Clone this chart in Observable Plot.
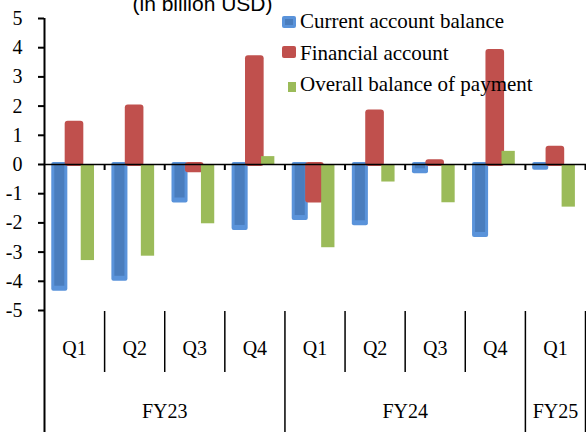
<!DOCTYPE html>
<html><head><meta charset="utf-8">
<script src="https://cdn.jsdelivr.net/npm/d3@7"></script>
<script src="https://cdn.jsdelivr.net/npm/@observablehq/plot@0.6"></script>
<style>
body{margin:0;background:#fff;}
#wrap{width:586px;height:432px;overflow:hidden;}
</style></head><body><div id="wrap"></div>
<script>
// ---- data ----
const quarters = ["Q1","Q2","Q3","Q4","Q1","Q2","Q3","Q4","Q1"];
const fiscalYears = ["FY23","FY23","FY23","FY23","FY24","FY24","FY24","FY24","FY25"];
const currentAccount   = [-4.27, -3.93, -1.25, -2.19, -1.85, -2.03, -0.25, -2.43, -0.13];
const financialAccount = [ 1.41,  1.97, -0.21,  3.66, -1.25,  1.80,  0.09,  3.87,  0.56];
const overallBalance   = [-3.29, -3.14, -2.03,  0.27, -2.85, -0.60, -1.31,  0.45, -1.46];
const seriesNames = ["Current account balance", "Financial account", "Overall balance of payment"];
const yTicks = [-5,-4,-3,-2,-1,0,1,2,3,4,5];
const title = "(in billion USD)";

// ---- derived ----
const idx = quarters.map((_, i) => i);
const fyGroups = [];
fiscalYears.forEach((fy, i) => {
  const last = fyGroups[fyGroups.length - 1];
  if (last && last.fy === fy) last.end = i + 1;
  else fyGroups.push({fy, start: i, end: i + 1});
});
const fyBounds = [...new Set(fyGroups.flatMap(g => [g.start, g.end]))];
const qBounds = d3.range(1, quarters.length).filter(b => !fyBounds.includes(b));

const blue = "#5a93da", blueIn = "#4a7dbd", red = "#c0504d", green = "#9bbb59";
const bOff = [0.121, 0.388], rOff = [0.344, 0.654], gOff = [0.611, 0.832];

const chart = Plot.plot({
  width: 586, height: 432,
  marginLeft: 44, marginRight: 1, marginTop: 18, marginBottom: 122,
  style: {fontFamily: "'Liberation Serif', 'Times New Roman', serif", fontSize: "20px", color: "#000", background: "white", overflow: "visible"},
  x: {domain: [0, quarters.length], axis: null},
  y: {domain: [-5, 5]},
  marks: [
    Plot.rectY(idx, {x1: i => i + bOff[0], x2: i => i + bOff[1], y1: () => 0, y2: i => currentAccount[i], fill: blue, insetTop: -2, insetBottom: -2, rx: 2}),
    Plot.rectY(idx, {x1: i => i + bOff[0], x2: i => i + bOff[1], y1: () => 0, y2: i => currentAccount[i], fill: blueIn, insetLeft: 3, insetRight: 3, insetTop: 1, insetBottom: 3}),
    Plot.rectY(idx, {x1: i => i + rOff[0], x2: i => i + rOff[1], y1: () => 0, y2: i => financialAccount[i], fill: red, insetTop: -2, insetBottom: -2, rx: 3}),
    Plot.rectY(idx, {x1: i => i + gOff[0], x2: i => i + gOff[1], y1: () => 0, y2: i => overallBalance[i], fill: green}),
    Plot.ruleY([0], {strokeWidth: 1.5, insetRight: -1}),
    Plot.ruleX(d3.range(1, quarters.length + 1), {y1: () => 0, y2: () => 0, insetBottom: -6, strokeWidth: 2}),
    Plot.ruleX([0], {y1: () => 5, y2: () => -5, insetBottom: -122, strokeWidth: 2}),
    Plot.ruleX(fyBounds.filter(b => b > 0), {y1: () => -5, y2: () => -5, insetTop: 1, insetBottom: -122, strokeWidth: 1.5}),
    Plot.ruleX(qBounds, {y1: () => -5, y2: () => -5, insetTop: 1, insetBottom: -62, strokeWidth: 1.5}),
    Plot.axisY(yTicks, {anchor: "left", tickSize: 6, tickPadding: 16, strokeWidth: 2, tickFormat: d => String(d), fontSize: 20, label: null}),
    Plot.text(quarters, {x: (d, i) => i + 0.5, frameAnchor: "bottom", lineAnchor: "bottom", dy: 44, fontSize: 20}),
    Plot.text(fyGroups, {x: d => (d.start + d.end) / 2, text: d => d.fy, frameAnchor: "bottom", lineAnchor: "bottom", dy: 107, fontSize: 20}),
    Plot.text([title], {frameAnchor: "top-left", dx: 158, dy: -8, textAnchor: "middle", lineAnchor: "bottom", fontFamily: "'Liberation Sans', Arial, sans-serif", fontSize: 21})
  ]
});

// legend
const svg = d3.select(chart);
const lg = svg.append("g")
  .attr("font-family", "'Liberation Serif', 'Times New Roman', serif")
  .attr("font-size", 21)
  .attr("text-anchor", "start");
const items = [
  {name: seriesNames[0], base: 28},
  {name: seriesNames[1], base: 60},
  {name: seriesNames[2], base: 91}
];
lg.append("rect").attr("x", 282).attr("y", 16).attr("width", 14).attr("height", 12).attr("rx", 2).attr("fill", blue);
lg.append("rect").attr("x", 285).attr("y", 19).attr("width", 8).attr("height", 6).attr("fill", blueIn);
lg.append("rect").attr("x", 282).attr("y", 46).attr("width", 14).attr("height", 12).attr("rx", 2).attr("fill", red);
lg.append("rect").attr("x", 288).attr("y", 82).attr("width", 8).attr("height", 10).attr("fill", green);
items.forEach(it => lg.append("text").attr("x", 300).attr("y", it.base).attr("fill", "#000").text(it.name));

document.getElementById("wrap").appendChild(chart);
</script></body></html>
